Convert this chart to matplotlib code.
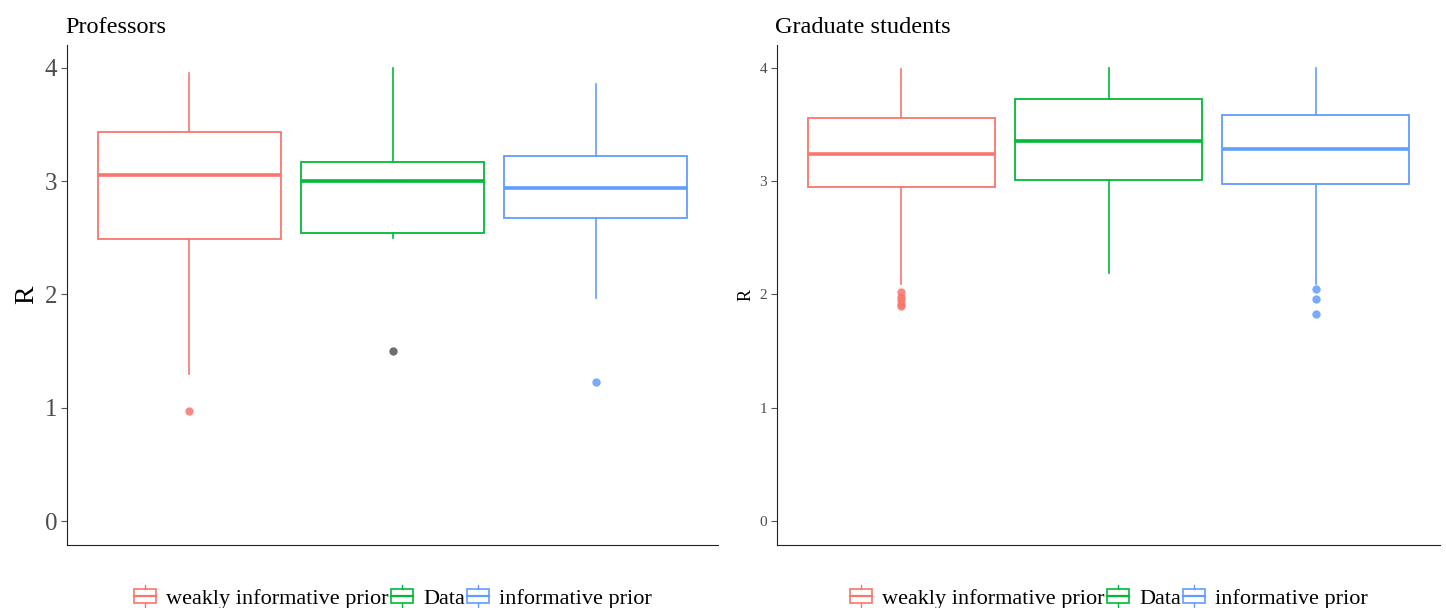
import matplotlib
matplotlib.use("Agg")
import matplotlib.pyplot as plt
from matplotlib.legend_handler import HandlerBase
from matplotlib.patches import Rectangle, Patch
from matplotlib.lines import Line2D

plt.rcParams['font.family'] = ['Liberation Serif', 'DejaVu Serif']

groups = ["weakly informative prior", "Data", "informative prior"]
colors = ["#F8766D", "#00BA38", "#619CFF"]

# Professors panel: whisker low, Q1, median, Q3, whisker high
prof_wlo = [1.30, 2.50, 1.97]
prof_q1 = [2.49, 2.54, 2.67]
prof_med = [3.05, 3.00, 2.94]
prof_q3 = [3.43, 3.17, 3.22]
prof_whi = [3.95, 4.00, 3.86]
prof_out = [[0.97], [1.50], [1.23]]

# Graduate students panel
grad_wlo = [2.09, 2.19, 2.09]
grad_q1 = [2.95, 3.01, 2.97]
grad_med = [3.24, 3.35, 3.28]
grad_q3 = [3.56, 3.72, 3.58]
grad_whi = [3.99, 4.00, 4.00]
grad_out = [[2.02, 1.98, 1.95, 1.92, 1.90], [], [2.05, 1.96, 1.83]]

yticks = [0, 1, 2, 3, 4]

fig = plt.figure(figsize=(14.46, 6.08), dpi=100)
ax1 = fig.add_axes([67/1446, 1-545/608, (718-67)/1446, 500/608])
ax2 = fig.add_axes([777/1446, 1-545/608, (1440-777)/1446, 500/608])


class BoxHandler(HandlerBase):
    def __init__(self, color):
        super().__init__()
        self.color = color

    def create_artists(self, legend, orig_handle, xdescent, ydescent, width, height, fontsize, trans):
        c = self.color
        w = width * 0.9
        x0 = -xdescent + (width - w) / 2
        h = height * 1.1
        y0 = -ydescent + (height - h) / 2
        arts = []
        arts.append(Rectangle((x0, y0 + h * 0.15), w, h * 0.7, facecolor='white', edgecolor=c, lw=1.2, transform=trans))
        arts.append(Line2D([x0, x0 + w], [y0 + h * 0.5] * 2, color=c, lw=1.6, transform=trans))
        xm = x0 + w / 2
        arts.append(Line2D([xm, xm], [y0 + h * 0.85, y0 + h * 1.05], color=c, lw=1.0, transform=trans))
        arts.append(Line2D([xm, xm], [y0 - h * 0.05, y0 + h * 0.15], color=c, lw=1.0, transform=trans))
        return arts


def panel(ax, wlo, q1, med, q3, whi, outs, title, tick_fs, lab_fs, out_colors):
    stats = []
    for i in range(3):
        stats.append(dict(whislo=wlo[i], q1=q1[i], med=med[i], q3=q3[i], whishi=whi[i], fliers=outs[i]))
    for i in range(3):
        c = colors[i]
        ax.bxp([stats[i]], positions=[i + 1], widths=0.9, showfliers=True, patch_artist=True,
               boxprops=dict(facecolor='white', edgecolor=c, lw=1.3),
               medianprops=dict(color=c, lw=2.6),
               whiskerprops=dict(color=c, lw=1.2),
               capprops=dict(lw=0, color=c),
               flierprops=dict(marker='o', markerfacecolor=out_colors[i], markeredgecolor='none',
                               markersize=6, alpha=0.85))
    ax.set_xlim(0.4, 3.6)
    ax.set_ylim(-0.21, 4.2)
    ax.set_yticks(yticks)
    ax.set_yticklabels([str(t) for t in yticks], fontsize=tick_fs, color='#4d4d4d')
    ax.set_xticks([])
    ax.spines['top'].set_visible(False)
    ax.spines['right'].set_visible(False)
    ax.spines['left'].set_color('#222222')
    ax.spines['bottom'].set_color('#222222')
    ax.tick_params(axis='y', length=4, color='#555555', pad=3)
    ax.set_ylabel("R", fontsize=lab_fs, color='black')
    ax.set_title(title, loc='left', fontsize=17.5, x=-0.003, pad=9)
    handles = [Patch(label=g) for g in groups]
    hmap = {handles[i]: BoxHandler(colors[i]) for i in range(3)}
    ax.legend(handles=handles, handler_map=hmap, loc='center', bbox_to_anchor=(0.5, -0.106),
              ncol=3, frameon=False, fontsize=16, handlelength=1.1, handleheight=0.9,
              columnspacing=0.05, handletextpad=0.4, borderpad=0.1)


panel(ax1, prof_wlo, prof_q1, prof_med, prof_q3, prof_whi, prof_out, "Professors", 18, 20,
      ["#F8766D", "#555555", "#619CFF"])
panel(ax2, grad_wlo, grad_q1, grad_med, grad_q3, grad_whi, grad_out, "Graduate students", 11, 13,
      ["#F8766D", "#00BA38", "#619CFF"])

fig.savefig("out.png", dpi=100, facecolor='white')
